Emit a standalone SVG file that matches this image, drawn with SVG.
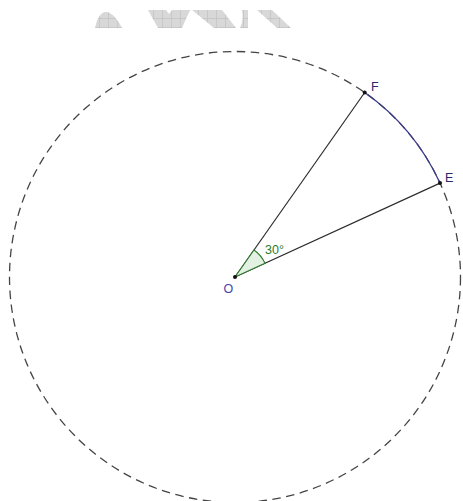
<svg xmlns="http://www.w3.org/2000/svg" width="463" height="501" viewBox="0 0 463 501">
<style>
.lbl{font-family:"Liberation Sans",Arial,sans-serif;font-size:12.5px}
.seg{stroke:#2b2b2b;stroke-width:1.2;fill:none}
.pt{fill:#111}
.wm{fill:url(#hatch)}
</style>
<defs>
<pattern id="hatch" width="9" height="9" patternUnits="userSpaceOnUse">
<rect width="9" height="9" fill="#d8d8d8"/>
<path d="M0,0.5H9M0.5,0V9" stroke="#c2c2c2" stroke-width="0.7"/>
</pattern>
</defs>
<rect width="463" height="501" fill="#fff"/>
<g id="watermark">
<path class="wm" d="M95,28 C97,18 101,12 106,12 C112,12 118,20 122,28 Z"/>
<path class="wm" d="M148,10 L166,10 L169,14 L172,10 L190,10 L182,28 L158,28 Z"/>
<path class="wm" d="M192,10 L222,10 L236,28 L214,28 Z"/>
<path class="wm" d="M242,10 L248,10 L248,28 L240,28 C243,22 243,16 242,10 Z"/>
<path class="wm" d="M257,10 L272,10 L291,28 L277,28 Z"/>
</g>
<g id="circle">
<circle cx="235" cy="277" r="225.5" fill="none" stroke="#444" stroke-width="1.3" stroke-dasharray="8.5,5.5"/>
</g>
<g id="connectors">
<line class="seg" x1="235" y1="277" x2="364.7" y2="92.5"/>
<line class="seg" x1="235" y1="277" x2="440" y2="183.1"/>
<path d="M364.7,92.5 A225.5,225.5 0 0 1 440,183.1" fill="none" stroke="#3a3a8a" stroke-width="1.3"/>
</g>
<g id="angle">
<path d="M235,277 L254,250 A33,33 0 0 1 265,263.3 Z" fill="#e2f1e2" stroke="#2f7a2f" stroke-width="1.1"/>
<text class="lbl" x="265" y="253.5" fill="#2d7a2d">30°</text>
</g>
<g id="O">
<circle class="pt" cx="235" cy="277" r="2"/>
<text class="lbl" x="223.5" y="292.5" fill="#4646a8">O</text>
</g>
<g id="F">
<circle class="pt" cx="364.7" cy="92.5" r="2"/>
<text class="lbl" x="371" y="91" fill="#2a2a60">F</text>
</g>
<g id="E">
<circle class="pt" cx="440" cy="183.1" r="2"/>
<text class="lbl" x="445" y="182" fill="#2a2a60">E</text>
</g>
</svg>
